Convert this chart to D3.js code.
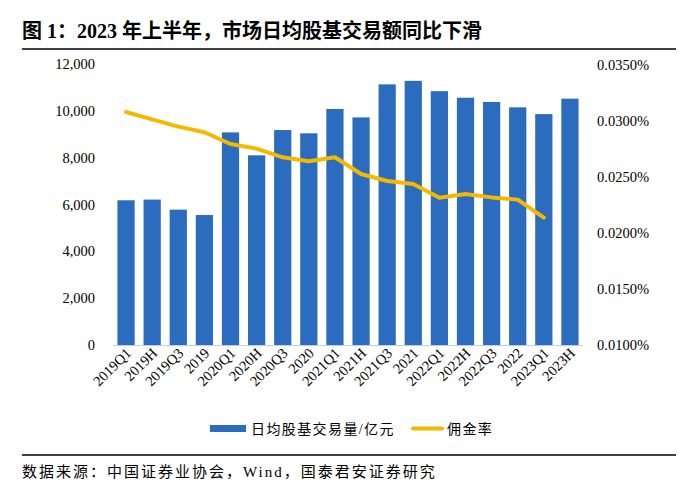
<!DOCTYPE html>
<html><head><meta charset="utf-8">
<script src="https://cdn.jsdelivr.net/npm/d3@7"></script>
<style>
body{margin:0;background:#fff;}
text{font-family:"Liberation Serif","Noto Sans CJK SC",serif;}
</style></head>
<body>
<svg id="c" width="700" height="498"></svg>
<script>
const categories = ["2019Q1","2019H","2019Q3","2019","2020Q1","2020H","2020Q3","2020","2021Q1","2021H","2021Q3","2021","2022Q1","2022H","2022Q3","2022","2023Q1","2023H"];
const volume = [6180,6210,5780,5550,9080,8100,9180,9040,10080,9720,11130,11280,10840,10560,10380,10150,9860,10520];
const commission = [0.0308,0.03015,0.0295,0.0290,0.02795,0.02753,0.02676,0.0264,0.02676,0.02527,0.02464,0.02438,0.02315,0.02348,0.02318,0.02298,0.02137,null];
const leftTicks = [0,2000,4000,6000,8000,10000,12000];
const rightTicks = [0.010,0.015,0.020,0.025,0.030,0.035];
const title = "图 1：2023 年上半年，市场日均股基交易额同比下滑";
const source = "数据来源：中国证券业协会，Wind，国泰君安证券研究";
const legendLabels = ["日均股基交易量/亿元","佣金率"];

const svg = d3.select("#c");
const blue = "#2B6CBF", yellow = "#F5B800";
const x = d3.scaleBand().domain(categories).range([113,583]).paddingInner(0.34).paddingOuter(0.17);
const yL = d3.scaleLinear().domain([0,12000]).range([345,64]);
const yR = d3.scaleLinear().domain([0.010,0.035]).range([345,65]);

// title
svg.append("text").attr("x",22).attr("y",38).attr("font-size",20).attr("font-weight","bold").attr("fill","#000").text(title);
svg.append("line").attr("x1",22).attr("x2",676).attr("y1",49).attr("y2",49).attr("stroke","#000").attr("stroke-width",1.5);

// bars
svg.append("g").selectAll("rect").data(volume).join("rect")
  .attr("x",(d,i)=>x(categories[i])).attr("width",x.bandwidth())
  .attr("y",d=>yL(d)).attr("height",d=>yL(0)-yL(d)).attr("fill",blue);

// baseline
svg.append("line").attr("x1",113).attr("x2",583).attr("y1",yL(0)+0.5).attr("y2",yL(0)+0.5).attr("stroke","#bcd0e8").attr("stroke-width",1);

// left axis
const gl = svg.append("g").attr("transform","translate(113,0)")
  .call(d3.axisLeft(yL).tickValues(leftTicks).tickSize(0).tickPadding(18).tickFormat(d3.format(",")));
gl.select(".domain").remove();
gl.selectAll("text").attr("font-size",14.5).attr("fill","#000").style("font-family","'Liberation Serif',serif");

// right axis
const gr = svg.append("g").attr("transform","translate(583,0)")
  .call(d3.axisRight(yR).tickValues(rightTicks).tickSize(0).tickPadding(14).tickFormat(d=>d.toFixed(4)+"%"));
gr.select(".domain").remove();
gr.selectAll("text").attr("font-size",14.5).attr("fill","#000").style("font-family","'Liberation Serif',serif");

// line
const line = d3.line().defined(d=>d!==null).x((d,i)=>x(categories[i])+x.bandwidth()/2).y(d=>yR(d));
svg.append("path").datum(commission).attr("d",line).attr("fill","none").attr("stroke",yellow).attr("stroke-width",4).attr("stroke-linejoin","round").attr("stroke-linecap","round");

// x labels
svg.append("g").selectAll("text").data(categories).join("text")
  .attr("transform",d=>`translate(${x(d)+x.bandwidth()/2+6},${354}) rotate(-45)`)
  .attr("text-anchor","end").attr("font-size",14.5).attr("fill","#000").text(d=>d);

// legend
svg.append("rect").attr("x",210).attr("y",425).attr("width",36).attr("height",7).attr("fill",blue);
svg.append("text").attr("x",251).attr("y",434).attr("font-size",14).attr("letter-spacing",1.4).attr("fill","#000").text(legendLabels[0]);
svg.append("line").attr("x1",413).attr("x2",442).attr("y1",428.5).attr("y2",428.5).attr("stroke",yellow).attr("stroke-width",4).attr("stroke-linecap","round");
svg.append("text").attr("x",447).attr("y",434).attr("font-size",14).attr("letter-spacing",1.4).attr("fill","#000").text(legendLabels[1]);

// source
svg.append("line").attr("x1",22).attr("x2",676).attr("y1",455).attr("y2",455).attr("stroke","#000").attr("stroke-width",1.5);
svg.append("text").attr("x",22).attr("y",477).attr("font-size",15).attr("letter-spacing",2).attr("fill","#000").text(source);
</script>
</body></html>
